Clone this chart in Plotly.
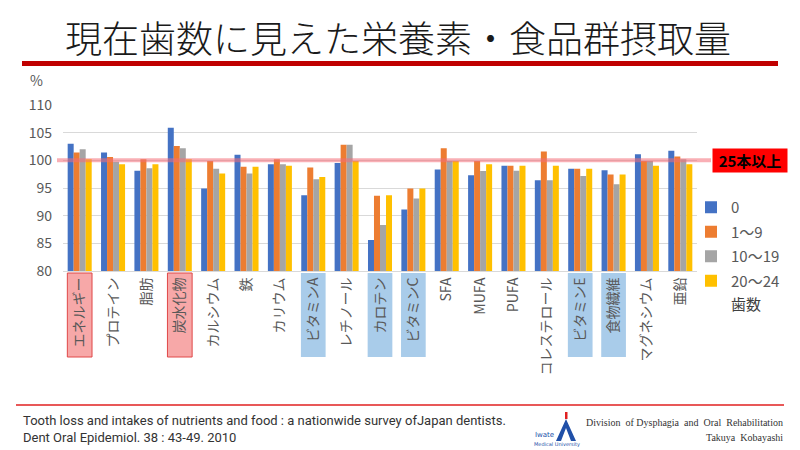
import plotly.graph_objects as go

# ---------------- data ----------------
categories = ["エネルギー", "プロテイン", "脂肪", "炭水化物", "カルシウム", "鉄", "カリウム",
              "ビタミンA", "レチノール", "カロテン", "ビタミンC", "SFA", "MUFA", "PUFA",
              "コレステロール", "ビタミンE", "食物繊維", "マグネシウム", "亜鉛"]
series_names = ["0", "1～9", "10～19", "20～24"]
teeth_0 = [103.0, 101.4, 98.1, 105.9, 94.9, 101.0, 99.3, 93.7, 99.5, 85.6, 91.1,
           98.35, 97.3, 99.0, 96.4, 98.5, 98.2, 101.1, 101.75]
teeth_1_9 = [101.4, 100.6, 100.2, 102.6, 99.9, 98.85, 100.2, 98.7, 102.8, 93.6, 94.9,
             102.2, 99.9, 99.0, 101.6, 98.5, 97.45, 99.9, 100.7]
teeth_10_19 = [102.0, 99.75, 98.55, 102.2, 98.5, 97.6, 99.3, 96.6, 102.8, 88.3, 93.1,
               99.9, 98.05, 98.1, 96.4, 97.15, 95.7, 99.9, 100.2]
teeth_20_24 = [100.2, 99.3, 99.3, 100.2, 97.6, 98.85, 99.0, 97.0, 99.9, 93.7, 94.9,
               99.9, 99.3, 99.0, 99.0, 98.5, 97.45, 99.0, 99.3]
y_ticks = [80, 85, 90, 95, 100, 105, 110]
reference_value = 100
pink_highlight = ["エネルギー", "炭水化物"]
blue_highlight = ["ビタミンA", "カロテン", "ビタミンC", "ビタミンE", "食物繊維"]

colors = ["#4472C4", "#ED7D31", "#A5A5A5", "#FFC000"]
JP = "Noto Sans CJK JP, Noto Sans, sans-serif"
W, H = 800, 450
L, R, T, B = 63, 697, 105, 271


def px(x):
    return (x - L) / (R - L)


def py(y):
    return (B - y) / (B - T)


fig = go.Figure()
for name, vals, col in zip(series_names, [teeth_0, teeth_1_9, teeth_10_19, teeth_20_24], colors):
    fig.add_trace(go.Bar(x=categories, y=vals, name=name, legendgroup=name,
                         marker=dict(color=col, line=dict(width=0))))

shapes = []
# highlight boxes behind the tick labels
for i, c in enumerate(categories):
    if c in pink_highlight:
        shapes.append(dict(type="rect", xref="x", yref="paper", x0=i - 0.37, x1=i + 0.37,
                           y0=py(273), y1=py(357), fillcolor="#F7A8A8",
                           line=dict(color="#E04848", width=1), layer="below"))
    elif c in blue_highlight:
        shapes.append(dict(type="rect", xref="x", yref="paper", x0=i - 0.37, x1=i + 0.37,
                           y0=py(273), y1=py(357), fillcolor="#A9CCEA",
                           line=dict(width=0), layer="below"))
# reference line
shapes.append(dict(type="line", xref="paper", yref="y", x0=px(57), x1=px(711),
                   y0=reference_value, y1=reference_value,
                   line=dict(color="rgba(244,110,120,0.55)", width=4), layer="above"))
# title underline
shapes.append(dict(type="rect", xref="paper", yref="paper", x0=px(22), x1=px(778),
                   y0=py(66), y1=py(61), fillcolor="#C00000", line=dict(width=0)))
# footer line
shapes.append(dict(type="line", xref="paper", yref="paper", x0=px(16), x1=px(784),
                   y0=py(405), y1=py(405), line=dict(color="#E02020", width=1.5)))
# logo
shapes.append(dict(type="path", xref="paper", yref="paper",
                   path="M {a},{b} L {c},{d} L {e},{d} L {a},{f} L {g},{d} L {h},{d} Z".format(
                       a=px(566), b=py(419), c=px(556), d=py(441), e=px(561), f=py(428),
                       g=px(571), h=px(576)),
                   fillcolor="#2050A8", line=dict(width=0)))
shapes.append(dict(type="rect", xref="paper", yref="paper", x0=px(565), x1=px(567.5),
                   y0=py(419), y1=py(412), fillcolor="#E02020", line=dict(width=0)))

annotations = [
    dict(text="現在歯数に見えた栄養素・食品群摂取量", x=px(398), y=py(37), xref="paper", yref="paper",
         showarrow=False, font=dict(family=JP, size=37, color="#1a1a1a", weight=300),
         xanchor="center", yanchor="middle"),
    dict(text="%", x=px(36), y=py(80), xref="paper", yref="paper", showarrow=False,
         font=dict(family=JP, size=14, color="#595959"), xanchor="center", yanchor="middle"),
    dict(text="25本以上", x=px(750), y=py(160.5), xref="paper", yref="paper", showarrow=False,
         font=dict(family=JP, size=15, color="#000000", weight="bold"), bgcolor="#FF0000",
         borderpad=2, width=70, height=19, xanchor="center", yanchor="middle"),
    dict(text="歯数", x=px(746), y=py(303), xref="paper", yref="paper", showarrow=False,
         font=dict(family=JP, size=15, color="#404040"), xanchor="center", yanchor="middle"),
    dict(text="Tooth loss and intakes of nutrients and food : a nationwide survey ofJapan dentists.",
         x=px(21), y=py(420), xref="paper", yref="paper", showarrow=False, xanchor="left", yanchor="middle",
         font=dict(family="Liberation Sans Narrow, Roboto, sans-serif", size=13, color="#333333")),
    dict(text="Dent Oral Epidemiol. 38 : 43-49. 2010",
         x=px(21), y=py(437), xref="paper", yref="paper", showarrow=False, xanchor="left", yanchor="middle",
         font=dict(family="Liberation Sans Narrow, Roboto, sans-serif", size=13, color="#333333")),
    dict(text="Iwate", x=px(533), y=py(435), xref="paper", yref="paper", showarrow=False,
         xanchor="left", yanchor="middle", font=dict(family="DejaVu Sans", size=7, color="#2050A8")),
    dict(text="Medical University", x=px(532), y=py(445), xref="paper", yref="paper", showarrow=False,
         xanchor="left", yanchor="middle", font=dict(family="DejaVu Sans", size=5, color="#2050A8")),
    dict(text="Division  of Dysphagia  and  Oral  Rehabilitation", x=px(785), y=py(422), xref="paper",
         yref="paper", showarrow=False, xanchor="right", yanchor="middle",
         font=dict(family="Liberation Serif, DejaVu Serif, serif", size=10, color="#333333")),
    dict(text="Takuya  Kobayashi", x=px(785), y=py(437), xref="paper",
         yref="paper", showarrow=False, xanchor="right", yanchor="middle",
         font=dict(family="Liberation Serif, DejaVu Serif, serif", size=10, color="#333333")),
]

fig.update_layout(
    width=W, height=H,
    margin=dict(l=L, r=W - R, t=T, b=H - B, autoexpand=False),
    paper_bgcolor="white", plot_bgcolor="white",
    barmode="group", bargap=0.28, bargroupgap=0,
    font=dict(family=JP, color="#595959"),
    showlegend=True,
    legend=dict(x=px(691), y=py(191), xref="paper", yref="paper", xanchor="left", yanchor="top",
                font=dict(family=JP, size=15, color="#595959"), bgcolor="rgba(0,0,0,0)",
                itemwidth=30, tracegroupgap=2, traceorder="grouped"),
    xaxis=dict(type="category", tickangle=-90, tickfont=dict(family=JP, size=14, color="#595959"),
               showgrid=False, showline=True, linecolor="#D9D9D9", linewidth=1, ticks=""),
    yaxis=dict(range=[80, 110], tickvals=y_ticks, tickfont=dict(family=JP, size=14, color="#595959"),
               showgrid=True, gridcolor="#D9D9D9", gridwidth=1, zeroline=False, ticks="",
               ticklabelstandoff=10),
    shapes=shapes,
    annotations=annotations,
)

fig.write_html(
    "out.html",
    config={"displayModeBar": False},
    post_script="document.body.style.margin='0';document.body.style.padding='0';"
                "document.documentElement.style.overflow='hidden';",
)
